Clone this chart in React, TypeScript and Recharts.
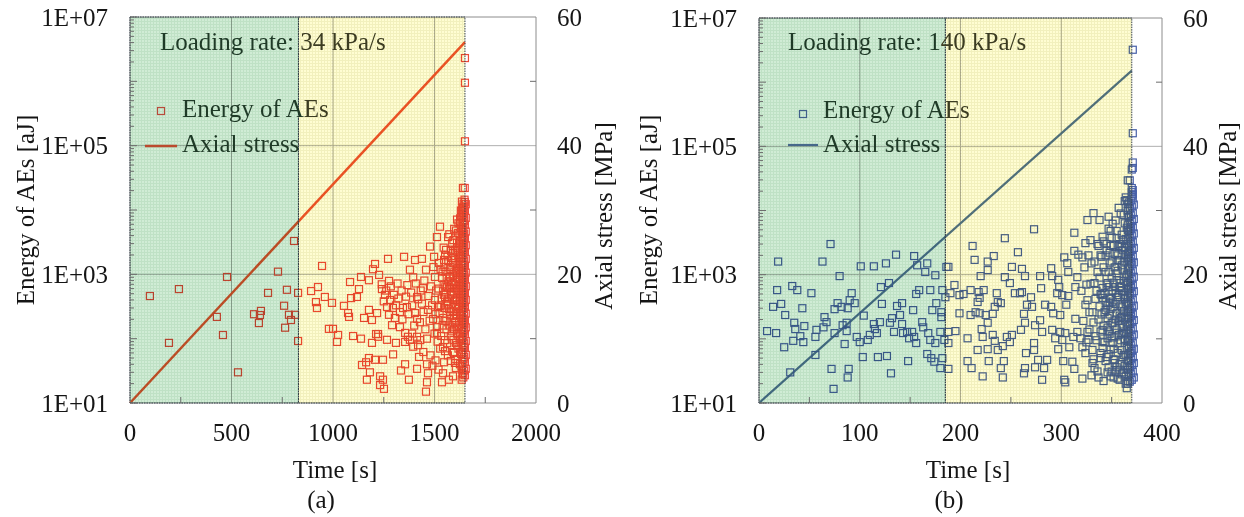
import React from "react";
import {
  ComposedChart,
  Line,
  ReferenceArea,
  ReferenceLine,
  Scatter,
  XAxis,
  YAxis,
} from "recharts";

const FONT = '"Liberation Serif", "Times New Roman", serif';

// ---- shared axis values ----
const decades = [10, 100, 1000, 10000, 100000, 1000000, 10000000];
const minorSteps = [1, 2, 3, 4, 5, 6, 7, 8, 9];
const energyTicks = decades.flatMap((d) =>
  d === 10000000 ? [d] : minorSteps.map((m) => m * d)
);
const stressTicks = [0, 10, 20, 30, 40, 50, 60];
const stressGrid = [20, 40];

// ---- panel (a): 34 kPa/s ----
const timeTicksA = [0, 250, 500, 750, 1000, 1250, 1500, 1750, 2000];
const timeGridA = [500, 1000, 1500];
const greenEndA = 830;
const failTimeA = 1650;
const stressA = [
  { t: 0, s: 0 },
  { t: 1650, s: 56.1 },
];
const aePointsA: [number, number][] = [
  // stage 1
  [98, 460], [192, 86], [241, 590], [428, 218], [458, 114], [478, 910], [532, 30],
  [611, 240], [635, 175], [640, 233], [645, 270], [680, 515], [729, 1100], [759, 325],
  [764, 148], [773, 575], [783, 235], [793, 195], [808, 3300], [813, 235], [828, 515], [828, 92],
  // stage 2
  [892, 550], [916, 370], [921, 300], [926, 635], [946, 1350], [960, 445], [980, 142], [995, 360],
  [1000, 142], [1020, 89], [1025, 114], [1054, 324], [1074, 250], [1079, 218], [1084, 760],
  [1089, 427], [1099, 110], [1118, 445], [1128, 590], [1138, 910], [1138, 100], [1143, 39],
  [1153, 210], [1163, 43], [1167, 23], [1177, 810], [1177, 280], [1177, 50], [1182, 30],
  [1192, 195], [1192, 86], [1197, 1200], [1207, 1450], [1207, 47], [1212, 118], [1217, 250],
  [1222, 118], [1222, 107], [1227, 980], [1232, 26], [1232, 19], [1241, 590], [1246, 47],
  [1246, 23], [1251, 16.6], [1256, 480], [1266, 310], [1266, 96], [1271, 1740], [1276, 790],
  [1276, 235], [1281, 400], [1291, 162], [1296, 57], [1300, 480], [1305, 210], [1310, 330],
  [1310, 86], [1330, 151], [1335, 32], [1345, 300], [1350, 1870], [1355, 123], [1355, 89],
  [1355, 40], [1364, 310], [1369, 107], [1374, 23], [1379, 1180], [1379, 96], [1404, 1670],
  [1404, 250], [1414, 445], [1414, 203], [1414, 107], [1414, 34], [1419, 79], [1424, 52],
  [1438, 1740], [1438, 350], [1443, 610], [1458, 1180], [1458, 15], [1463, 100], [1463, 40],
  [1463, 21], [1468, 280], [1468, 29], [1478, 2700], [1493, 203], [1498, 1870], [1502, 910],
  [1502, 400], [1512, 3800], [1512, 151], [1512, 123], [1517, 310], [1527, 5500], [1537, 21],
  [1542, 74], [1542, 29], [1547, 1670], [1547, 43], [1552, 445], [1552, 64], [1562, 635],
  [1567, 3800], [1571, 23], [1576, 910], [1591, 2140], [1591, 26], [1596, 60], [1601, 175],
  [1601, 42], [1606, 86], [1611, 3100], [1616, 4400], [1626, 6300], [1631, 7800], [1635, 10000],
  [1635, 13500], [1640, 22000],
  [1240, 700], [1250, 380], [1262, 560], [1285, 650], [1295, 300], [1318, 720], [1322, 420],
  [1330, 260], [1338, 560], [1342, 200], [1360, 450], [1366, 680], [1372, 240], [1385, 520],
  [1390, 330], [1395, 900], [1400, 160], [1408, 720], [1420, 410], [1428, 180], [1432, 560],
  [1446, 260], [1450, 800], [1455, 140], [1470, 460], [1476, 190], [1482, 650], [1488, 330],
  [1495, 1300], [1505, 240], [1508, 560], [1515, 90], [1522, 1500], [1530, 330], [1533, 110],
  [1538, 880], [1545, 2600], [1550, 190], [1555, 1100], [1558, 330], [1390, 120], [1395, 75],
  [1430, 95], [1445, 62], [1480, 55], [1490, 38], [1500, 120], [1505, 46], [1520, 33], [1528, 70],
  // dense zone before failure
  [1520, 600], [1525, 250], [1530, 1200], [1535, 420], [1540, 160], [1545, 700], [1548, 300],
  [1552, 2000], [1555, 520], [1558, 190], [1560, 900], [1563, 85], [1565, 350], [1568, 1600],
  [1570, 420], [1572, 640], [1575, 1300], [1576, 230], [1578, 260], [1580, 110], [1582, 2300],
  [1583, 480], [1585, 680], [1586, 1800], [1588, 150], [1589, 270], [1590, 950], [1592, 62],
  [1593, 3400], [1594, 700], [1595, 520], [1596, 140], [1597, 210], [1598, 1100], [1600, 1700],
  [1601, 400], [1602, 760], [1603, 48], [1604, 330], [1605, 240], [1606, 4800], [1607, 600],
  [1608, 1150], [1609, 2300], [1610, 440], [1611, 120], [1612, 80], [1613, 2600], [1614, 330],
  [1615, 880], [1616, 290], [1617, 1250], [1618, 6200], [1619, 1450], [1619, 160], [1620, 560],
  [1621, 185], [1621, 700], [1622, 3100], [1623, 95], [1623, 2800], [1624, 1000], [1625, 380],
  [1625, 110], [1626, 7400], [1627, 2000], [1627, 420], [1628, 640], [1629, 240], [1629, 1600],
  [1630, 5300], [1631, 1250], [1631, 58], [1632, 470], [1633, 140], [1633, 240], [1634, 3800],
  [1635, 850], [1635, 5000], [1636, 300], [1636, 95], [1637, 9200], [1638, 1600], [1638, 700],
  [1639, 560], [1639, 2600], [1640, 200], [1640, 2900], [1641, 710], [1641, 4300], [1642, 1050],
  [1642, 360], [1643, 12500], [1643, 130], [1644, 2200], [1644, 620], [1645, 260], [1645, 6800],
  [1645, 1400], [1646, 75], [1646, 480], [1646, 3500], [1647, 900], [1647, 170], [1647, 10500],
  [1580, 45], [1583, 780], [1585, 130], [1587, 3100], [1589, 420], [1591, 1500], [1593, 95],
  [1595, 260], [1597, 5100], [1599, 620], [1601, 2400], [1603, 180], [1605, 35], [1607, 1050],
  [1609, 390], [1611, 7100], [1613, 150], [1615, 560], [1617, 2000], [1618, 70], [1620, 1200],
  [1621, 310], [1623, 4200], [1624, 850], [1625, 40], [1626, 230], [1627, 3300], [1628, 120],
  [1629, 520], [1630, 9800], [1631, 1800], [1632, 270], [1632, 85], [1633, 660], [1634, 2500],
  [1634, 33], [1635, 150], [1636, 1150], [1636, 4600], [1637, 380], [1637, 62], [1638, 8400],
  [1638, 190], [1639, 1400], [1639, 28], [1640, 500], [1640, 11000], [1641, 105], [1641, 2000],
  [1642, 290], [1642, 6000], [1643, 740], [1643, 48], [1644, 3000], [1644, 175], [1645, 1000],
  [1645, 420], [1645, 8000], [1540, 1100], [1543, 210], [1546, 480], [1549, 1300], [1551, 95],
  [1554, 650], [1557, 2400], [1559, 140], [1562, 380], [1564, 1900], [1566, 55], [1569, 780],
  [1571, 290], [1573, 4200], [1574, 160], [1577, 600], [1579, 1200],
  // failure band
  [1634, 23], [1642, 25], [1650, 27], [1638, 29], [1646, 32], [1654, 34], [1634, 37], [1642, 40],
  [1650, 44], [1638, 48], [1646, 52], [1654, 56], [1634, 61], [1642, 66], [1650, 72], [1638, 78],
  [1646, 85], [1654, 92], [1634, 100], [1642, 108], [1650, 118], [1638, 128], [1646, 139],
  [1654, 150], [1634, 163], [1642, 177], [1650, 192], [1638, 208], [1646, 226], [1654, 245],
  [1634, 266], [1642, 289], [1650, 313], [1638, 340], [1646, 369], [1654, 400], [1634, 434],
  [1642, 471], [1650, 511], [1638, 554], [1646, 601], [1654, 652], [1634, 708], [1642, 768],
  [1650, 833], [1638, 904], [1646, 981], [1654, 1064], [1634, 1155], [1642, 1253], [1650, 1359],
  [1638, 1475], [1646, 1600], [1654, 1736], [1634, 1884], [1642, 2044], [1650, 2218], [1638, 2406],
  [1646, 2611], [1654, 2833], [1634, 3073], [1642, 3335], [1650, 3618], [1638, 3925], [1646, 4259],
  [1654, 4621], [1634, 5014], [1642, 5440], [1650, 5902], [1638, 6404], [1646, 6948], [1654, 7539],
  [1634, 8179], [1642, 8874], [1650, 9629], [1638, 10447], [1646, 11335], [1654, 12298],
  [1650, 13344], [1648, 14478],
  [1650, 2300000], [1650, 950000], [1650, 117000], [1649, 22000],
];

// ---- panel (b): 140 kPa/s ----
const timeTicksB = [0, 50, 100, 150, 200, 250, 300, 350, 400];
const timeGridB = [100, 200, 300];
const greenEndB = 185;
const failTimeB = 370;
const stressB = [
  { t: 0, s: 0 },
  { t: 370, s: 51.8 },
];
const aePointsB: [number, number][] = [
  // stage 1
  [8, 132], [14, 315], [17, 123], [18, 575], [19, 1600], [22, 350], [25, 74], [26, 235], [31, 30],
  [33, 665], [34, 93], [35, 178], [36, 142], [38, 575], [41, 110], [43, 300], [44, 89], [45, 158],
  [52, 515], [56, 107], [56, 56], [57, 138], [63, 1600], [64, 151], [65, 218], [67, 182], [71, 3000],
  [72, 34], [74, 16.6], [75, 123], [75, 290], [78, 360], [80, 950], [82, 315], [83, 163], [85, 83],
  [87, 178], [87, 132], [88, 300], [88, 25], [89, 34], [90, 400], [92, 515], [95, 360], [97, 107],
  [100, 89], [101, 1350], [103, 52], [104, 230], [108, 96], [110, 115], [114, 1350], [114, 170],
  [115, 142], [117, 123], [118, 52], [120, 182], [121, 640], [122, 350], [126, 1500], [127, 54],
  [129, 740], [130, 178], [131, 29], [132, 210], [134, 128], [136, 2050], [137, 325], [140, 235],
  [142, 360], [142, 170], [143, 123], [147, 128], [148, 45], [149, 102], [152, 128], [153, 280],
  [154, 1950], [154, 107], [156, 500], [156, 86], [157, 1400], [159, 575], [162, 182], [163, 151],
  [165, 1100], [167, 1500], [167, 58], [168, 123], [170, 96], [170, 575], [171, 50], [172, 280],
  [174, 44], [175, 980], [175, 86], [176, 360], [180, 35], [180, 128], [181, 260], [181, 218],
  [182, 50], [182, 575], [184, 96], [185, 445], [186, 1320],
  // stage 2
  [188, 1320], [188, 128], [188, 86], [188, 34], [190, 515], [194, 690], [195, 132], [199, 480],
  [199, 250], [203, 500], [207, 102], [207, 45], [210, 575], [210, 235], [211, 35], [212, 2800],
  [214, 1700], [215, 260], [217, 375], [217, 67], [218, 535], [219, 435], [219, 250], [220, 950],
  [221, 142], [222, 107], [222, 26], [223, 575], [225, 235], [227, 1600], [227, 1180], [227, 178],
  [227, 69], [228, 45], [232, 245], [232, 115], [233, 1950], [234, 315], [234, 93], [236, 515],
  [237, 375], [237, 67], [240, 360], [240, 35], [242, 77], [242, 25], [243, 45], [244, 3700],
  [244, 915], [246, 107], [249, 740], [249, 89], [251, 1320], [251, 115], [254, 515], [257, 2240],
  [259, 515], [260, 138], [261, 1230], [261, 535], [263, 245], [263, 29], [264, 950], [264, 178],
  [264, 35], [265, 60], [266, 340], [270, 445], [271, 315], [273, 5100], [273, 86], [273, 67],
  [274, 163], [274, 36], [277, 47], [279, 950], [279, 195], [280, 615], [281, 128], [281, 23],
  [283, 35], [284, 340], [286, 47], [290, 1260], [290, 315], [291, 950], [291, 138], [292, 250],
  [294, 102], [296, 515], [297, 830], [297, 69], [298, 640], [299, 235], [299, 128], [301, 480],
  [301, 96], [302, 45], [303, 1860], [303, 23], [304, 123], [304, 21], [305, 340], [306, 1510],
  [307, 1100], [307, 465], [308, 74], [311, 44], [312, 107], [313, 4500], [313, 2350], [313, 34],
  [314, 640], [314, 205], [316, 915], [316, 128], [317, 2050], [319, 102], [321, 1860], [321, 74],
  [321, 24], [324, 3100], [324, 340], [324, 60], [326, 7100], [326, 128], [327, 96], [329, 3450],
  [331, 67], [331, 42], [332, 9100], [333, 740], [333, 35], [337, 2800], [337, 25], [338, 7100],
  [339, 500], [339, 50], [341, 3900], [341, 435], [341, 72], [341, 138], [344, 280], [346, 102],
  [347, 8000], [347, 640], [347, 36], [348, 360], [349, 4800], [350, 178], [351, 86], [353, 47],
  [355, 3700], [356, 1700], [356, 445], [356, 24], [358, 740], [358, 33], [360, 2700], [360, 218],
  [360, 67], [361, 123], [363, 6300], [365, 14500], [365, 17], [366, 29500],
  // dense zone before failure
  [325, 700], [328, 260], [330, 1500], [332, 180], [334, 420], [335, 95], [336, 1100], [338, 320],
  [339, 60], [340, 240], [343, 520], [344, 2000], [346, 330], [348, 120], [349, 2800], [351, 380],
  [352, 70], [353, 640], [354, 200], [355, 1050], [356, 450], [357, 115], [358, 3000], [359, 210],
  [360, 560], [361, 2400], [362, 130], [362, 1600], [363, 420], [364, 3600], [364, 55], [365, 180],
  [365, 1000], [366, 600], [366, 95], [367, 1900], [367, 260], [368, 4800], [369, 640], [369, 3300],
  [330, 27], [336, 31], [342, 22], [346, 30], [352, 25], [355, 36], [358, 23], [362, 30], [364, 20],
  [366, 33], [340, 1900], [341, 620], [342, 160], [342, 3300], [343, 88], [344, 1100], [344, 380],
  [345, 52], [345, 2400], [346, 210], [346, 740], [347, 5200], [347, 130], [348, 440], [348, 1500],
  [349, 68], [349, 290], [350, 900], [350, 3800], [350, 31], [351, 175], [351, 560], [352, 2900],
  [352, 105], [353, 1300], [353, 42], [354, 350], [354, 7000], [355, 820], [355, 140], [356, 2000],
  [356, 60], [357, 480], [357, 11000], [358, 230], [358, 1650], [359, 95], [359, 660], [360, 4200],
  [360, 28], [360, 310], [361, 1200], [361, 150], [362, 8500], [362, 480], [362, 56], [363, 2600],
  [363, 200], [363, 38], [364, 900], [364, 16000], [364, 120], [365, 370], [365, 5400], [365, 72],
  [366, 1800], [366, 260], [366, 22], [366, 12500],
  [340, 480], [341, 90], [342, 1300], [343, 260], [344, 45], [345, 700], [345, 3000], [346, 150],
  [347, 1100], [347, 58], [348, 2200], [348, 240], [349, 420], [349, 26], [350, 1600], [350, 110],
  [351, 6200], [351, 310], [352, 750], [352, 48], [353, 2100], [353, 160], [354, 520], [354, 30],
  [355, 4800], [355, 250], [356, 1150], [356, 85], [357, 2800], [357, 190], [358, 640], [358, 40],
  [359, 9000], [359, 330], [360, 1400], [360, 120], [361, 3500], [361, 52], [362, 800], [362, 270],
  [363, 14000], [363, 100], [364, 2000], [364, 350], [364, 26], [365, 700], [365, 3000], [365, 140],
  [366, 5000], [366, 440], [366, 46], [367, 1200], [367, 8000], [367, 90], [367, 2100], [368, 520],
  [368, 170], [368, 11000], [368, 36], [369, 1600], [369, 260], [369, 60], [369, 5500],
  [320, 560], [322, 190], [323, 1300], [325, 88], [326, 400], [327, 2000], [328, 140], [329, 720],
  [331, 260], [332, 48], [333, 1600], [334, 110], [335, 560], [336, 3000], [337, 200], [338, 900],
  [339, 130], [339, 2000],
  // failure band
  [366, 20], [368, 21.5], [370, 23], [372, 25], [367, 27], [369, 29], [371, 31], [366, 33],
  [368, 36], [370, 39], [372, 42], [367, 45], [369, 48], [371, 52], [366, 56], [368, 60], [370, 65],
  [372, 70], [367, 75], [369, 81], [371, 87], [366, 94], [368, 101], [370, 109], [372, 117],
  [367, 126], [369, 136], [371, 146], [366, 157], [368, 169], [370, 182], [372, 196], [367, 211],
  [369, 227], [371, 245], [366, 264], [368, 284], [370, 306], [372, 329], [367, 354], [369, 381],
  [371, 411], [366, 442], [368, 476], [370, 513], [372, 552], [367, 595], [369, 640], [371, 690],
  [366, 743], [368, 800], [370, 861], [372, 928], [367, 999], [369, 1076], [371, 1158], [366, 1247],
  [368, 1343], [370, 1446], [372, 1557], [367, 1677], [369, 1806], [371, 1944], [366, 2094],
  [368, 2254], [370, 2428], [372, 2614], [367, 2815], [369, 3031], [371, 3264], [366, 3515],
  [368, 3785], [370, 4076], [372, 4389], [367, 4726], [369, 5089], [371, 5480], [366, 5901],
  [368, 6355], [370, 6843], [372, 7369], [367, 7935], [369, 8545], [371, 9201], [366, 9908],
  [368, 10670], [370, 11490], [372, 12370], [367, 13320], [369, 14350], [371, 15450], [370, 16640],
  [371, 17920], [370, 19300], [371, 20780], [370, 22380],
  [371, 3200000], [371, 160000], [371, 56000], [371, 46000], [370, 43500], [368, 29500],
];

const tickText = { fontFamily: FONT, fontSize: 25, fill: "#151515" };

function leftTick(margin: number) {
  return (p: any) => {
    const v = p.payload.value;
    const ax = p.x + margin;
    const exp = Math.round(Math.log10(v));
    const decade = Math.abs(v - Math.pow(10, exp)) < 1e-6 * v;
    const label = decade && exp % 2 === 1 ? `1E+${String(exp).padStart(2, "0")}` : "";
    return (
      <g>
        <line x1={ax} x2={ax + (decade ? 7 : 4)} y1={p.y} y2={p.y} stroke="#6d6d6d" />
        {label && (
          <text x={p.x} y={p.y} dy="0.35em" textAnchor="end" {...tickText}>
            {label}
          </text>
        )}
      </g>
    );
  };
}

function rightTick(margin: number) {
  return (p: any) => {
    const v = p.payload.value;
    const ax = p.x - margin;
    const labelled = v % 20 === 0;
    return (
      <g>
        {!labelled && <line x1={ax} x2={ax - 6} y1={p.y} y2={p.y} stroke="#6d6d6d" />}
        {labelled && (
          <text x={p.x} y={p.y} dy="0.35em" textAnchor="start" {...tickText}>
            {v}
          </text>
        )}
      </g>
    );
  };
}

function bottomTick(margin: number, labelEvery: number) {
  return (p: any) => {
    const v = p.payload.value;
    const ay = p.y - margin;
    const labelled = v % labelEvery === 0;
    return (
      <g>
        {!labelled && <line x1={p.x} x2={p.x} y1={ay} y2={ay - 6} stroke="#6d6d6d" />}
        {labelled && (
          <text x={p.x} y={p.y} dy="0.71em" textAnchor="middle" {...tickText}>
            {v}
          </text>
        )}
      </g>
    );
  };
}

function shade(id: string, base: string, lineColor: string) {
  return (p: any) => (
    <g>
      <defs>
        <pattern id={id} width={3} height={3} patternUnits="userSpaceOnUse">
          <rect width={3} height={3} fill={base} />
          <rect width={3} height={1} fill={lineColor} />
          <rect width={1} height={3} fill={lineColor} />
        </pattern>
      </defs>
      <rect
        x={p.x}
        y={p.y}
        width={p.width}
        height={p.height}
        fill={`url(#${id})`}
        style={{ mixBlendMode: "multiply" }}
      />
      <rect
        x={p.x}
        y={p.y}
        width={p.width}
        height={p.height}
        fill="none"
        stroke="#34404c"
        strokeDasharray="1.5 1"
      />
    </g>
  );
}

function square(color: string) {
  return (p: any) => (
    <rect
      x={p.cx - 3.5}
      y={p.cy - 3.5}
      width={7}
      height={7}
      fill="none"
      stroke={color}
      strokeWidth={1.2}
    />
  );
}

type PanelProps = {
  id: string;
  width: number;
  margin: { top: number; right: number; bottom: number; left: number };
  xMax: number;
  xTicks: number[];
  xGrid: number[];
  labelEvery: number;
  greenEnd: number;
  failTime: number;
  points: [number, number][];
  stress: { t: number; s: number }[];
  pointColor: string;
  lineColor: string;
  lineWidth: number;
};

function Panel(props: PanelProps) {
  const ae = props.points.map(([t, e]) => ({ t, e }));
  return (
    <ComposedChart width={props.width} height={517} margin={props.margin}>
      {props.xGrid.map((x) => (
        <ReferenceLine key={`gx${x}`} x={x} yAxisId="right" stroke="#afafaf" zIndex={-50} />
      ))}
      {stressGrid.map((y) => (
        <ReferenceLine key={`gy${y}`} y={y} yAxisId="right" stroke="#afafaf" zIndex={-50} />
      ))}
      <ReferenceLine y={60} yAxisId="right" stroke="#8c8c8c" zIndex={-50} />
      <XAxis
        dataKey="t"
        type="number"
        domain={[0, props.xMax]}
        ticks={props.xTicks}
        interval={0}
        tickSize={0}
        tickMargin={20}
        tick={bottomTick(20, props.labelEvery)}
        axisLine={{ stroke: "#8c8c8c" }}
        height={30}
      />
      <YAxis
        yAxisId="left"
        dataKey="e"
        scale="log"
        domain={[10, 10000000]}
        allowDataOverflow
        ticks={energyTicks}
        interval={0}
        tickSize={0}
        tickMargin={22}
        tick={leftTick(22)}
        axisLine={{ stroke: "#8c8c8c" }}
        width={70}
      />
      <YAxis
        yAxisId="right"
        orientation="right"
        dataKey="s"
        domain={[0, 60]}
        ticks={stressTicks}
        interval={0}
        tickSize={0}
        tickMargin={21}
        tick={rightTick(21)}
        axisLine={{ stroke: "#8c8c8c" }}
        width={44}
      />
      <Scatter
        yAxisId="left"
        data={ae}
        dataKey="e"
        shape={square(props.pointColor)}
        isAnimationActive={false}
      />
      <Line
        yAxisId="right"
        data={props.stress}
        dataKey="s"
        type="linear"
        stroke={props.lineColor}
        strokeWidth={props.lineWidth}
        dot={false}
        isAnimationActive={false}
      />
      <ReferenceArea
        yAxisId="right"
        x1={0}
        x2={props.greenEnd}
        y1={0}
        y2={60}
        zIndex={650}
        shape={shade(`${props.id}-green`, "#d0ecd5", "#bfe1c5")}
      />
      <ReferenceArea
        yAxisId="right"
        x1={props.greenEnd}
        x2={props.failTime}
        y1={0}
        y2={60}
        zIndex={650}
        shape={shade(`${props.id}-yellow`, "#fffdd2", "#f2f0bd")}
      />
    </ComposedChart>
  );
}

const GREEN_TXT = "#1f3a27";
const OLIVE_TXT = "#3c3c22";

function Annotations() {
  const t = { fontFamily: FONT, fontSize: 25 };
  return (
    <svg
      width={1244}
      height={517}
      style={{ position: "absolute", left: 0, top: 0, pointerEvents: "none" }}
    >
      {/* panel (a) */}
      <text x={160} y={50} {...t}>
        <tspan fill={GREEN_TXT}>Loading rate: </tspan>
        <tspan fill={OLIVE_TXT}>34 kPa/s</tspan>
      </text>
      <rect x={157.5} y={107.5} width={7} height={7} fill="none" stroke="#b84a3a" strokeWidth={1.2} />
      <text x={182} y={117} {...t}>
        <tspan fill={GREEN_TXT}>Energy of A</tspan>
        <tspan fill={OLIVE_TXT}>Es</tspan>
      </text>
      <line x1={145} x2={177} y1={146} y2={146} stroke="#bb4a2e" strokeWidth={2.5} />
      <text x={182} y={152} fill={GREEN_TXT} {...t}>
        Axial stress
      </text>
      <text transform="translate(25,210) rotate(-90)" textAnchor="middle" dy="0.35em" fill="#151515" {...t}>
        Energy of AEs [aJ]
      </text>
      <text transform="translate(603,216) rotate(-90)" textAnchor="middle" dy="0.35em" fill="#151515" {...t}>
        Axial stress [MPa]
      </text>
      <text x={335} y={478} textAnchor="middle" fill="#151515" {...t}>
        Time [s]
      </text>
      <text x={321} y={508} textAnchor="middle" fill="#151515" {...t}>
        (a)
      </text>

      {/* panel (b) */}
      <text x={788} y={50} {...t}>
        <tspan fill={GREEN_TXT}>Loading rate: 1</tspan>
        <tspan fill={OLIVE_TXT}>40 kPa/s</tspan>
      </text>
      <rect x={799.5} y={110.5} width={7} height={7} fill="none" stroke="#3f5f8a" strokeWidth={1.2} />
      <text x={823} y={118} {...t}>
        <tspan fill={GREEN_TXT}>Energy of A</tspan>
        <tspan fill={OLIVE_TXT}>Es</tspan>
      </text>
      <line x1={788} x2={818} y1={145} y2={145} stroke="#46688a" strokeWidth={2.2} />
      <text x={823} y={152} fill={GREEN_TXT} {...t}>
        Axial stress
      </text>
      <text transform="translate(648,210) rotate(-90)" textAnchor="middle" dy="0.35em" fill="#151515" {...t}>
        Energy of AEs [aJ]
      </text>
      <text transform="translate(1227,216) rotate(-90)" textAnchor="middle" dy="0.35em" fill="#151515" {...t}>
        Axial stress [MPa]
      </text>
      <text x={968} y={478} textAnchor="middle" fill="#151515" {...t}>
        Time [s]
      </text>
      <text x={949} y={508} textAnchor="middle" fill="#151515" {...t}>
        (b)
      </text>
    </svg>
  );
}

export default function App() {
  return (
    <div
      style={{
        position: "absolute",
        left: 0,
        top: 0,
        width: 1244,
        height: 517,
        background: "#ffffff",
        fontFamily: FONT,
        overflow: "hidden",
      }}
    >
      <div style={{ position: "absolute", left: 0, top: 0 }}>
        <Panel
          id="a"
          width={620}
          margin={{ top: 17, right: 40, bottom: 84, left: 60 }}
          xMax={2000}
          xTicks={timeTicksA}
          xGrid={timeGridA}
          labelEvery={500}
          greenEnd={greenEndA}
          failTime={failTimeA}
          points={aePointsA}
          stress={stressA}
          pointColor="#ee4a38"
          lineColor="#f0552e"
          lineWidth={2.5}
        />
      </div>
      <div style={{ position: "absolute", left: 620, top: 0 }}>
        <Panel
          id="b"
          width={624}
          margin={{ top: 18, right: 38, bottom: 84, left: 69 }}
          xMax={400}
          xTicks={timeTicksB}
          xGrid={timeGridB}
          labelEvery={100}
          greenEnd={greenEndB}
          failTime={failTimeB}
          points={aePointsB}
          stress={stressB}
          pointColor="#4760a8"
          lineColor="#52739c"
          lineWidth={2.2}
        />
      </div>
      <Annotations />
    </div>
  );
}
